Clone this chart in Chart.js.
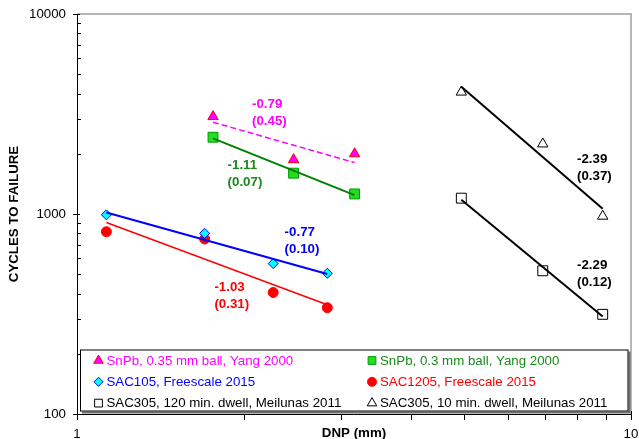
<!DOCTYPE html>
<html>
<head>
<meta charset="utf-8">
<script src="https://cdn.jsdelivr.net/npm/chart.js@4.4.1/dist/chart.umd.min.js"></script>
<style>
  html, body { margin: 0; padding: 0; background: #fff; }
  canvas { display: block; }
</style>
</head>
<body>
<canvas id="fatigue" width="639" height="439"></canvas>
<script>
// Distance to neutral point (mm) for each test vehicle group
const dnpYang = [1.76, 2.46, 3.17];
const dnpFreescale = [1.13, 1.70, 2.26, 2.83];
const dnpMeilunas = [4.94, 6.93, 8.89];

// Cycles to failure
const cyclesSnPb035 = [3070, 1870, 2000];
const cyclesSnPb03 = [2420, 1600, 1260];
const cyclesSAC105 = [990, 800, 565, 505];
const cyclesSAC1205 = [815, 750, 405, 340];
const cyclesSAC305dwell120 = [1200, 520, 315];
const cyclesSAC305dwell10 = [4070, 2240, 975];

// Power-law exponent of each fit and the value shown beneath it
const fitSlopes = [-0.79, -1.11, -0.77, -1.03, -2.29, -2.39];
const fitStats = [0.45, 0.07, 0.10, 0.31, 0.12, 0.37];

const seriesLabels = [
  'SnPb, 0.35 mm ball, Yang 2000',
  'SnPb, 0.3 mm ball, Yang 2000',
  'SAC105, Freescale 2015',
  'SAC1205, Freescale 2015',
  'SAC305, 120 min. dwell, Meilunas 2011',
  'SAC305, 10 min. dwell, Meilunas 2011'
];

const seriesX = [dnpYang, dnpYang, dnpFreescale, dnpFreescale, dnpMeilunas, dnpMeilunas];
const seriesY = [cyclesSnPb035, cyclesSnPb03, cyclesSAC105, cyclesSAC1205, cyclesSAC305dwell120, cyclesSAC305dwell10];

// Axis tick values that carry labels
const xTickLabels = [1, 10];
const yTickLabels = [100, 1000, 10000];

const FONT = "'Liberation Sans', Arial, Helvetica, sans-serif";

const styles = [
  { marker: 'triangle', r: 6, fill: '#ff00ff', edge: '#ff0000', line: '#ff00ff', lw: 1.5, dash: [6, 3], text: '#ff00ff' },
  { marker: 'rect', r: 7, fill: '#22dd22', edge: '#009900', line: '#008000', lw: 2, dash: [], text: '#1a8a1a' },
  { marker: 'rectRot', r: 5, fill: '#00ffff', edge: '#0000ff', line: '#0000ff', lw: 2, dash: [], text: '#0000ff' },
  { marker: 'circle', r: 5, fill: '#ff0000', edge: '#ff0000', line: '#ff0000', lw: 1.5, dash: [], text: '#ff0000' },
  { marker: 'rect', r: 7, fill: '#ffffff', edge: '#000000', line: '#000000', lw: 2, dash: [], text: '#000000' },
  { marker: 'triangle', r: 6, fill: '#ffffff', edge: '#000000', line: '#000000', lw: 2, dash: [], text: '#000000' }
];

// Where each exponent note sits (data units, top-left of the text block)
const notePlacement = [
  { x: 2.07, y: 3540 },
  { x: 1.87, y: 1745 },
  { x: 2.37, y: 810 },
  { x: 1.77, y: 428 },
  { x: 7.99, y: 551 },
  { x: 7.99, y: 1877 }
];

// Least-squares intercept in log-log space for a fixed exponent
function powerFit(xs, ys, slope) {
  const lx = xs.map(Math.log10), ly = ys.map(Math.log10);
  const mx = lx.reduce((a, b) => a + b, 0) / lx.length;
  const my = ly.reduce((a, b) => a + b, 0) / ly.length;
  const a = my - slope * mx;
  return [xs[0], xs[xs.length - 1]].map(x => ({ x: x, y: Math.pow(10, a + slope * Math.log10(x)) }));
}

const datasets = [];
seriesLabels.forEach((label, i) => {
  const s = styles[i];
  datasets.push({
    label: label,
    data: seriesX[i].map((x, k) => ({ x: x, y: seriesY[i][k] })),
    showLine: false,
    pointStyle: s.marker,
    pointRadius: s.r,
    pointHoverRadius: s.r,
    pointBackgroundColor: s.fill,
    pointBorderColor: s.edge,
    pointBorderWidth: 1,
    order: 1
  });
});
seriesLabels.forEach((label, i) => {
  const s = styles[i];
  datasets.push({
    label: label + ' fit',
    data: powerFit(seriesX[i], seriesY[i], fitSlopes[i]),
    showLine: true,
    pointRadius: 0,
    borderColor: s.line,
    borderWidth: s.lw,
    borderDash: s.dash,
    fill: false,
    order: 0
  });
});

function decadeTicks(scale) {
  const out = [];
  const lo = Math.floor(Math.log10(scale.min)), hi = Math.ceil(Math.log10(scale.max));
  for (let n = lo; n <= hi; n++) {
    for (let k = 1; k <= 9; k++) {
      const v = k * Math.pow(10, n);
      if (v >= scale.min - 1e-9 && v <= scale.max + 1e-9) out.push({ v: v, major: k === 1 });
    }
  }
  return out;
}

// Grey frame on top/right plus the tick marks on both axes
const framePlugin = {
  id: 'frame',
  beforeDatasetsDraw(chart) {
    const { ctx, chartArea: ca } = chart;
    ctx.save();
    ctx.strokeStyle = '#a0a0a0';
    ctx.lineWidth = 1.5;
    ctx.beginPath();
    ctx.moveTo(ca.left, ca.top);
    ctx.lineTo(ca.right, ca.top);
    ctx.lineTo(ca.right, ca.bottom);
    ctx.stroke();
    ctx.restore();
  },
  afterDraw(chart) {
    const { ctx, chartArea: ca, scales } = chart;
    ctx.save();
    ctx.strokeStyle = '#000';
    ctx.lineWidth = 1;
    ctx.beginPath();
    decadeTicks(scales.y).forEach(t => {
      const py = Math.round(scales.y.getPixelForValue(t.v)) + 0.5;
      const x0 = Math.round(ca.left);
      if (t.major) { ctx.moveTo(x0 - 4, py); ctx.lineTo(x0 + 3, py); }
      else { ctx.moveTo(x0, py); ctx.lineTo(x0 + 4, py); }
    });
    decadeTicks(scales.x).forEach(t => {
      const px = Math.round(scales.x.getPixelForValue(t.v)) + 0.5;
      const y0 = Math.round(ca.bottom);
      if (t.major) { ctx.moveTo(px, y0 - 3); ctx.lineTo(px, y0 + 6); }
      else { ctx.moveTo(px, y0); ctx.lineTo(px, y0 + 6); }
    });
    ctx.stroke();
    ctx.restore();
  }
};

// Exponent notes next to each fitted line
const notePlugin = {
  id: 'notes',
  afterDatasetsDraw(chart) {
    const { ctx, scales } = chart;
    ctx.save();
    ctx.font = 'bold 13.3px ' + FONT;
    ctx.textAlign = 'left';
    ctx.textBaseline = 'middle';
    fitSlopes.forEach((b, i) => {
      const p = notePlacement[i];
      const x = scales.x.getPixelForValue(p.x);
      const y = scales.y.getPixelForValue(p.y);
      ctx.fillStyle = styles[i].text;
      ctx.fillText(b.toFixed(2), x, y);
      ctx.fillText('(' + fitStats[i].toFixed(2) + ')', x, y + 17);
    });
    ctx.restore();
  }
};

function drawMarker(ctx, s, x, y, r) {
  ctx.fillStyle = s.fill;
  ctx.strokeStyle = s.edge;
  ctx.lineWidth = 1;
  if (Chart.helpers && Chart.helpers.drawPoint) {
    Chart.helpers.drawPoint(ctx, { pointStyle: s.marker, radius: r, borderWidth: 1, rotation: 0 }, x, y);
  }
}

// Boxed two-column legend inside the plot area
const legendPlugin = {
  id: 'boxLegend',
  afterDatasetsDraw(chart) {
    const { ctx, chartArea: ca } = chart;
    const left = ca.left + 3, right = ca.right - 2.5, top = 349.5, bottom = ca.bottom - 2.5;
    ctx.save();
    ctx.fillStyle = '#707070';
    ctx.fillRect(left + 2, top + 2, right - left, bottom - top);
    ctx.fillStyle = '#fff';
    ctx.fillRect(left, top, right - left, bottom - top);
    ctx.strokeStyle = '#000';
    ctx.lineWidth = 1;
    ctx.strokeRect(left + 0.5, top + 0.5, right - left - 1, bottom - top - 1);
    ctx.font = '13.3px ' + FONT;
    ctx.textAlign = 'left';
    ctx.textBaseline = 'middle';
    const cols = [left + 18.5, left + 292];
    seriesLabels.forEach((label, i) => {
      const s = styles[i];
      const col = i % 2, row = Math.floor(i / 2);
      const cy = top + 11 + row * 21.3;
      const mx = cols[col];
      const small = s.marker === 'rect' ? 5.5 : (s.marker === 'triangle' ? 5.5 : 4.5);
      drawMarker(ctx, s, mx, cy, small);
      ctx.fillStyle = s.text;
      ctx.fillText(label, mx + 8, cy + 0.5);
    });
    ctx.restore();
  }
};

function tickText(v) {
  return yTickLabels.concat(xTickLabels).some(t => Math.abs(t - v) < 1e-9) ? String(v) : '';
}

function fixBox(width, height) {
  return s => {
    if (width !== null) s.width = width;
    if (height !== null) s.height = height;
    s.paddingLeft = 0; s.paddingRight = 0; s.paddingTop = 0; s.paddingBottom = 0;
  };
}

new Chart(document.getElementById('fatigue'), {
  type: 'scatter',
  data: { datasets: datasets },
  options: {
    responsive: false,
    animation: false,
    devicePixelRatio: 1,
    layout: { padding: { left: 0, right: 7.5, top: 14, bottom: 0 } },
    plugins: { legend: { display: false }, tooltip: { enabled: false } },
    scales: {
      x: {
        type: 'logarithmic',
        position: 'bottom',
        min: 1,
        max: 10,
        afterFit: fixBox(null, 25),
        grid: { display: false, drawTicks: false },
        border: { display: true, color: '#000', width: 1 },
        ticks: {
          autoSkip: false, maxRotation: 0, padding: 12, color: '#000',
          font: { family: FONT, size: 13.3 },
          callback: v => tickText(v)
        },
        title: {
          display: true, text: 'DNP (mm)', color: '#000',
          font: { family: FONT, size: 13.3, weight: 'bold' },
          padding: { top: 0, bottom: -2 }
        }
      },
      y: {
        type: 'logarithmic',
        position: 'left',
        min: 100,
        max: 10000,
        afterFit: fixBox(77, null),
        grid: { display: false, drawTicks: false },
        border: { display: true, color: '#000', width: 1 },
        ticks: {
          autoSkip: false, padding: 11, color: '#000',
          font: { family: FONT, size: 13.3 },
          callback: v => tickText(v)
        },
        title: {
          display: true, text: 'CYCLES TO FAILURE', color: '#000',
          font: { family: FONT, size: 13.3, weight: 'bold' },
          padding: { top: 6, bottom: 0 }
        }
      }
    }
  },
  plugins: [framePlugin, notePlugin, legendPlugin]
});
</script>
</body>
</html>
